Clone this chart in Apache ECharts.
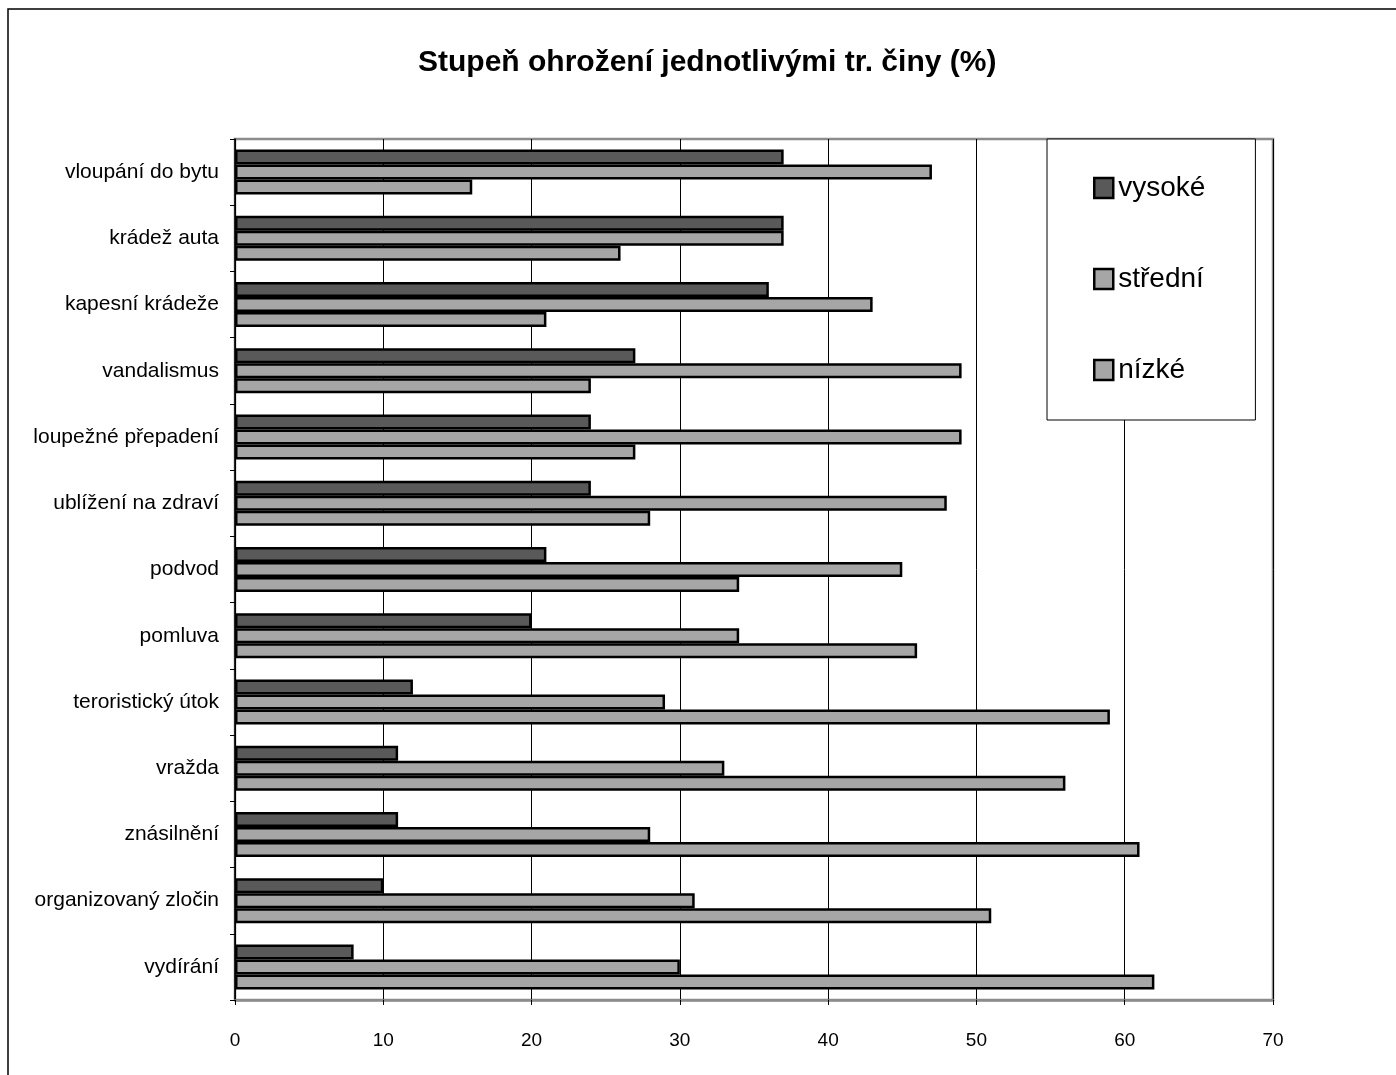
<!DOCTYPE html>
<html>
<head>
<meta charset="utf-8">
<script src="https://cdn.jsdelivr.net/npm/echarts@6/dist/echarts.min.js"></script>
<style>
  html, body { margin: 0; padding: 0; background: #fff; }
  #chart { width: 1396px; height: 1075px; }
</style>
</head>
<body>
<div id="chart"></div>
<script>
// kategorie shora dolu
const categories = [
  'vloupání do bytu', 'krádež auta', 'kapesní krádeže', 'vandalismus',
  'loupežné přepadení', 'ublížení na zdraví', 'podvod', 'pomluva',
  'teroristický útok', 'vražda', 'znásilnění', 'organizovaný zločin', 'vydírání'
]
const seriesNames = ['vysoké', 'střední', 'nízké']
const vysoke = [37, 37, 36, 27, 24, 24, 21, 20, 12, 11, 11, 10, 8]
const stredni = [47, 37, 43, 49, 49, 48, 45, 34, 29, 33, 28, 31, 30]
const nizke = [16, 26, 21, 24, 27, 28, 34, 46, 59, 56, 61, 51, 62]
const xTicks = [0, 10, 20, 30, 40, 50, 60, 70]

const font = 'Liberation Sans, Arial, sans-serif'
const colors = ['#595959', '#a6a6a6', '#a6a6a6']
const values = [vysoke, stredni, nizke]

const chart = echarts.init(document.getElementById('chart'))

const option = {
  backgroundColor: '#fff',
  animation: false,
  title: {
    text: 'Stupeň ohrožení jednotlivými tr. činy (%)',
    left: 418,
    top: 48,
    padding: 0,
    textStyle: { fontFamily: font, fontSize: 30, fontWeight: 'bold', color: '#000' }
  },
  legend: {
    orient: 'vertical',
    left: 1047,
    top: 139,
    padding: [35, 50, 36, 46],
    itemGap: 63,
    itemWidth: 19,
    itemHeight: 20,
    backgroundColor: '#fff',
    borderColor: '#000',
    borderWidth: 1,
    icon: 'rect',
    itemStyle: { borderColor: '#000', borderWidth: 2.5 },
    textStyle: { fontFamily: font, fontSize: 28, color: '#000' },
    data: seriesNames
  },
  grid: {
    left: 235,
    right: 123,
    top: 139,
    bottom: 75,
    show: true,
    borderColor: '#8c8c8c',
    borderWidth: 2.5
  },
  xAxis: {
    type: 'value',
    min: xTicks[0],
    max: xTicks[xTicks.length - 1],
    interval: 10,
    axisLine: { show: true, lineStyle: { color: '#8c8c8c', width: 2.5 } },
    axisTick: { show: true, length: 5, lineStyle: { color: '#000' } },
    axisLabel: { fontFamily: font, fontSize: 19, color: '#000', margin: 31 },
    splitLine: { show: true, lineStyle: { color: '#000', width: 1 } }
  },
  yAxis: {
    type: 'category',
    inverse: true,
    data: categories,
    axisLine: { show: true, lineStyle: { color: '#000', width: 1.5 } },
    axisTick: { show: true, length: 5, lineStyle: { color: '#000' } },
    axisLabel: { fontFamily: font, fontSize: 21, color: '#000', margin: 16 }
  },
  series: seriesNames.map((name, i) => ({
    name: name,
    type: 'bar',
    data: values[i],
    barWidth: 15,
    barGap: '0%',
    itemStyle: { color: colors[i], borderColor: '#000', borderWidth: 2.5 }
  })),
  graphic: [
    {
      type: 'rect',
      shape: { x: 8, y: 9, width: 1400, height: 1080 },
      style: { fill: 'none', stroke: '#000', lineWidth: 1.5 },
      z: 100
    }
  ]
}

chart.setOption(option)
window.addEventListener('resize', () => chart.resize())
</script>
</body>
</html>
